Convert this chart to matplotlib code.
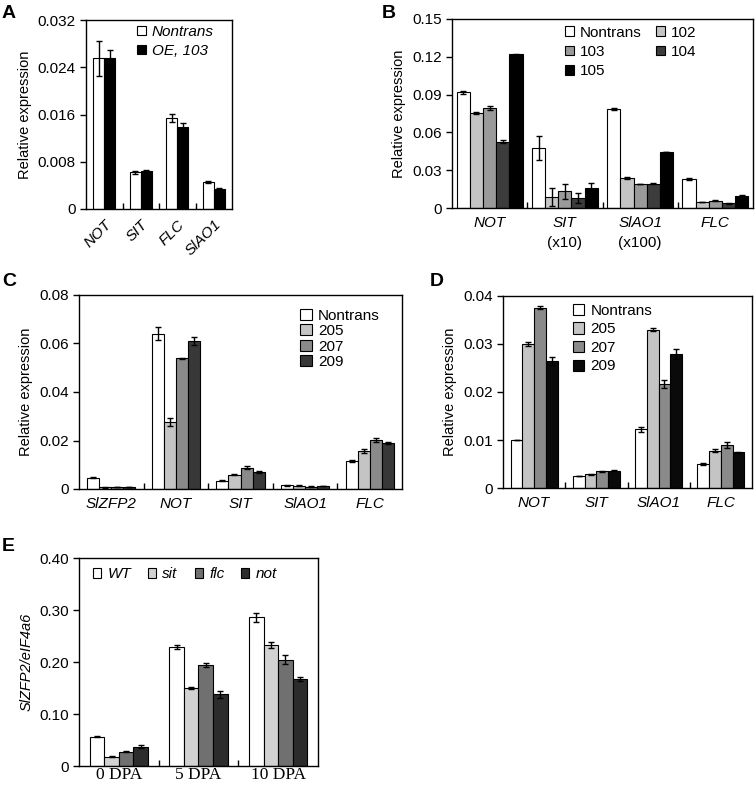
import numpy as np
import matplotlib
matplotlib.use("Agg")
import matplotlib.pyplot as plt

plt.rcParams['font.family'] = ['Liberation Sans', 'DejaVu Sans']

# ---- data ----
a_genes = ['NOT', 'SIT', 'FLC', 'SlAO1']
a_lines = ['Nontrans', 'OE, 103']
a_vals = [[0.0255, 0.0062, 0.0154, 0.0046],
          [0.0255, 0.0064, 0.0139, 0.0034]]
a_errs = [[0.0030, 0.0003, 0.0007, 0.0002],
          [0.0014, 0.0002, 0.0007, 0.0001]]

b_genes = ['NOT', 'SIT', 'SlAO1', 'FLC']
b_scale = ['', '(x10)', '(x100)', '']
b_lines = ['Nontrans', '102', '103', '104', '105']
b_vals = [[0.0919, 0.0475, 0.0786, 0.0231],
          [0.0754, 0.0088, 0.0239, 0.0048],
          [0.0796, 0.0133, 0.0191, 0.0056],
          [0.0526, 0.0077, 0.0194, 0.0037],
          [0.1221, 0.0159, 0.0443, 0.0098]]
b_errs = [[0.0012, 0.0096, 0.0008, 0.0010],
          [0.0008, 0.0069, 0.0005, 0.0003],
          [0.0015, 0.0060, 0.0003, 0.0004],
          [0.0010, 0.0040, 0.0004, 0.0003],
          [0.0005, 0.0040, 0.0002, 0.0003]]

c_genes = ['SlZFP2', 'NOT', 'SIT', 'SlAO1', 'FLC']
c_lines = ['Nontrans', '205', '207', '209']
c_vals = [[0.0047, 0.0641, 0.0034, 0.0015, 0.0116],
          [0.0007, 0.0276, 0.0058, 0.0014, 0.0157],
          [0.0008, 0.0539, 0.0088, 0.0010, 0.0203],
          [0.0008, 0.0610, 0.0070, 0.0013, 0.0190]]
c_errs = [[0.0003, 0.0025, 0.0003, 0.0003, 0.0004],
          [0.0001, 0.0016, 0.0002, 0.0001, 0.0010],
          [0.0001, 0.0003, 0.0007, 0.0001, 0.0008],
          [0.0001, 0.0015, 0.0004, 0.0001, 0.0003]]

d_genes = ['NOT', 'SIT', 'SlAO1', 'FLC']
d_lines = ['Nontrans', '205', '207', '209']
d_vals = [[0.0100, 0.0025, 0.0122, 0.0050],
          [0.0300, 0.0029, 0.0330, 0.0078],
          [0.0376, 0.0035, 0.0217, 0.0089],
          [0.0264, 0.0036, 0.0279, 0.0074]]
d_errs = [[0.0001, 0.0001, 0.0005, 0.0002],
          [0.0004, 0.0001, 0.0003, 0.0004],
          [0.0004, 0.0001, 0.0009, 0.0006],
          [0.0008, 0.0001, 0.0011, 0.0001]]

e_days = ['0 DPA', '5 DPA', '10 DPA']
e_lines = ['WT', 'sit', 'flc', 'not']
e_vals = [[0.0565, 0.2292, 0.2857],
          [0.0180, 0.1502, 0.2324],
          [0.0270, 0.1939, 0.2042],
          [0.0372, 0.1380, 0.1670]]
e_errs = [[0.0015, 0.0040, 0.0085],
          [0.0013, 0.0020, 0.0060],
          [0.0010, 0.0040, 0.0085],
          [0.0030, 0.0070, 0.0040]]

W, H = 756, 785
fig = plt.figure(figsize=(W / 100, H / 100), dpi=100)


def make_ax(left, right, top, bottom):
    return fig.add_axes([left / W, 1 - bottom / H, (right - left) / W, (bottom - top) / H])


def draw_groups(ax, vals, errs, colors, width, ylim, yticks, yticklabels):
    n_cat = len(vals[0])
    n = len(vals)
    x = np.arange(n_cat)
    bars = []
    for i in range(n):
        xi = x + (i - (n - 1) / 2) * width
        b = ax.bar(xi, vals[i], width, color=colors[i], edgecolor='black', linewidth=0.8, zorder=2)
        ax.errorbar(xi, vals[i], yerr=errs[i], fmt='none', ecolor='black',
                    elinewidth=1, capsize=2, capthick=1, zorder=3)
        bars.append(b)
    ax.set_xlim(-0.5, n_cat - 0.5)
    ax.set_ylim(*ylim)
    ax.set_yticks(yticks)
    ax.set_yticklabels(yticklabels, fontsize=11)
    ax.tick_params(axis='y', direction='out', length=4, width=1)
    ax.set_xticks(x)
    ax.tick_params(axis='x', which='major', length=0, pad=6)
    ax.set_xticks(np.arange(n_cat - 1) + 0.5, minor=True)
    ax.tick_params(axis='x', which='minor', direction='in', length=4, width=1)
    for s in ax.spines.values():
        s.set_linewidth(1)
    return bars


def panel_letter(x, y, s):
    fig.text(x / W, 1 - y / H, s, fontsize=14, fontweight='bold', va='top', ha='left')


def legend_kw(hl, style='normal'):
    return dict(frameon=False, prop={'size': 11, 'style': style}, handlelength=hl, handleheight=hl,
                handletextpad=0.4, borderpad=0, borderaxespad=0)


# ---- A ----
axA = make_ax(86, 232, 20, 209)
bars = draw_groups(axA, a_vals, a_errs, ['white', 'black'], 0.3, (0, 0.032),
                   [0, 0.008, 0.016, 0.024, 0.032], ['0', '0.008', '0.016', '0.024', '0.032'])
axA.set_xticklabels(a_genes, fontsize=11, style='italic', rotation=45, ha='right',
                    rotation_mode='anchor')
axA.set_ylabel('Relative expression', fontsize=10.5)
axA.legend(bars, a_lines, loc='upper left', bbox_to_anchor=(0.35, 0.975),
           labelspacing=0.35, **legend_kw(0.55, 'italic'))
panel_letter(2, 5, 'A')

# ---- B ----
axB = make_ax(452, 753, 19, 208)
bars = draw_groups(axB, b_vals, b_errs, ['white', '#c4c4c4', '#9a9a9a', '#3c3c3c', 'black'], 0.175,
                   (0, 0.15), [0, 0.03, 0.06, 0.09, 0.12, 0.15], ['0', '0.03', '0.06', '0.09', '0.12', '0.15'])
axB.set_xticklabels(b_genes, fontsize=11, style='italic')
for i, s in enumerate(b_scale):
    if s:
        axB.text(i, -0.185, s, transform=axB.get_xaxis_transform(), ha='center', va='center', fontsize=11)
axB.set_ylabel('Relative expression', fontsize=10.5)
order = [0, 2, 4, 1, 3]
axB.legend([bars[i] for i in order], [b_lines[i] for i in order], loc='upper left',
           bbox_to_anchor=(0.375, 0.965), ncol=2, columnspacing=0.9, labelspacing=0.35,
           **legend_kw(0.6))
panel_letter(382, 5, 'B')

# ---- C ----
axC = make_ax(79, 402, 295, 489)
bars = draw_groups(axC, c_vals, c_errs, ['white', '#c4c4c4', '#8a8a8a', '#383838'], 0.186,
                   (0, 0.08), [0, 0.02, 0.04, 0.06, 0.08], ['0', '0.02', '0.04', '0.06', '0.08'])
axC.set_xticklabels(c_genes, fontsize=11, style='italic')
axC.set_ylabel('Relative expression', fontsize=10.5)
axC.legend(bars, c_lines, loc='upper left', bbox_to_anchor=(0.685, 0.93), labelspacing=0.1,
           **legend_kw(0.75))
panel_letter(2, 273, 'C')

# ---- D ----
axD = make_ax(503, 752, 296, 488)
bars = draw_groups(axD, d_vals, d_errs, ['white', '#c4c4c4', '#8a8a8a', '#0a0a0a'], 0.188,
                   (0, 0.04), [0, 0.01, 0.02, 0.03, 0.04], ['0', '0.01', '0.02', '0.03', '0.04'])
axD.set_xticklabels(d_genes, fontsize=11, style='italic')
axD.set_ylabel('Relative expression', fontsize=10.5)
axD.legend(bars, d_lines, loc='upper left', bbox_to_anchor=(0.28, 0.96), labelspacing=0.3,
           **legend_kw(0.75))
panel_letter(430, 273, 'D')

# ---- E ----
axE = make_ax(79, 318, 558, 766)
bars = draw_groups(axE, e_vals, e_errs, ['white', '#d2d2d2', '#707070', '#2c2c2c'], 0.183,
                   (0, 0.40), [0, 0.1, 0.2, 0.3, 0.4], ['0', '0.10', '0.20', '0.30', '0.40'])
axE.set_xticklabels(e_days, fontsize=12.5, family='Liberation Serif')
axE.tick_params(axis='x', which='major', pad=1)
axE.set_ylabel('SlZFP2/eIF4a6', fontsize=10.5, style='italic')
axE.legend(bars, e_lines, loc='upper left', bbox_to_anchor=(0.058, 0.955), ncol=4,
           columnspacing=1.1, **legend_kw(0.55, 'italic'))
panel_letter(2, 538, 'E')

fig.savefig('out.png', dpi=100)
